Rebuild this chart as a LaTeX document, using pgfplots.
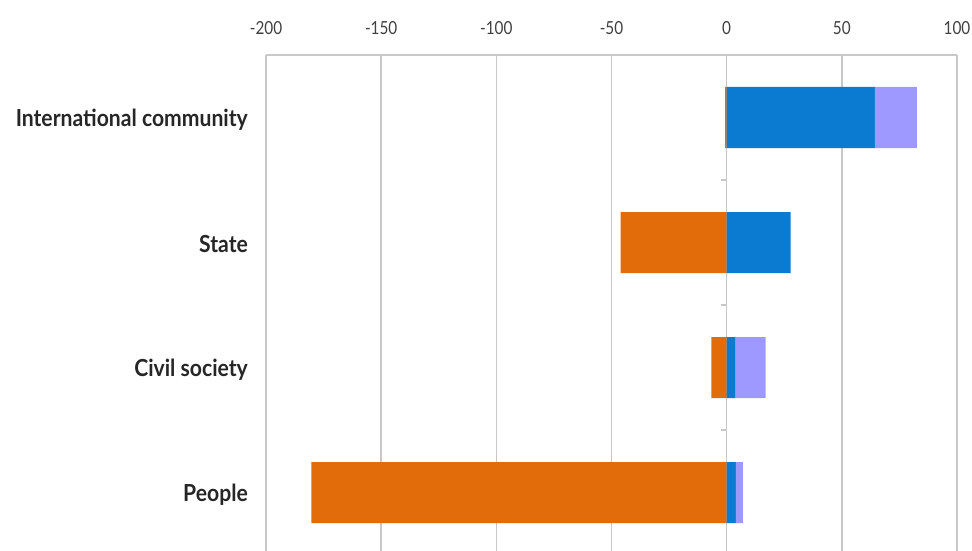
\documentclass[border=0pt]{standalone}
\usepackage{fontspec}
\setmainfont{Lato}
\newfontfamily\labfont[FakeStretch=0.9]{Lato}
\newfontfamily\tickfont[FakeStretch=0.85]{Lato}
\usepackage{pgfplots}
\pgfplotsset{compat=1.18}
\definecolor{cOrange}{HTML}{E36C0A}
\definecolor{cBlue}{HTML}{0A7BD0}
\definecolor{cLav}{HTML}{9D99FF}
\definecolor{cGrid}{HTML}{C8C8C8}
\begin{document}
\begin{tikzpicture}
\begin{axis}[
  name=ax,
  scale only axis,
  width=691pt, height=500pt,
  xmin=-200, xmax=100, ymin=-0.5, ymax=3.5,
  axis x line*=top,
  axis y line*=left,
  x axis line style={draw=cGrid, line width=1.6pt},
  y axis line style={draw=cGrid, line width=1.6pt},
  xtick={-200,-150,...,100},
  xmajorgrids,
  grid style={draw=cGrid, line width=1.6pt},
  tick align=inside,
  major tick length=8pt,
  xtick style={draw=cGrid, line width=1.4pt},
  ytick={0,1,2,3},
  yticklabels={People, Civil society, State, International community},
  ytick style={draw=none},
  /pgf/number format/assume math mode=true,
  xticklabel style={font=\tickfont\fontsize{18}{21}\selectfont, text=black!75, inner sep=0pt, anchor=south, yshift=20pt},
  yticklabel style={font=\labfont\bfseries\fontsize{23.5}{26}\selectfont, text=black!85, inner sep=0pt, anchor=east, xshift=-10pt, yshift=-2pt},
  xbar, bar width=61pt, bar shift=0pt,
]
\addplot[fill=cOrange, draw=none] coordinates {(-0.7,3) (-46,2) (-6.6,1) (-180.3,0)};
\addplot[fill=cBlue, draw=none, stack plots=x] coordinates {(64.3,3) (27.8,2) (3.9,1) (4,0)};
\addplot[fill=cLav, draw=none, stack plots=x] coordinates {(18.3,3) (0,2) (13,1) (3,0)};
\draw[cGrid, line width=1.2pt] ([xshift=-6pt]axis cs:0,0.5) -- (axis cs:0,0.5);
\draw[cGrid, line width=1.2pt] ([xshift=-6pt]axis cs:0,1.5) -- (axis cs:0,1.5);
\draw[cGrid, line width=1.2pt] ([xshift=-6pt]axis cs:0,2.5) -- (axis cs:0,2.5);
\end{axis}
\pgfresetboundingbox
\path[use as bounding box] ([xshift=-266pt,yshift=5pt]ax.south west) rectangle ([xshift=15pt,yshift=55pt]ax.north east);
\end{tikzpicture}
\end{document}
